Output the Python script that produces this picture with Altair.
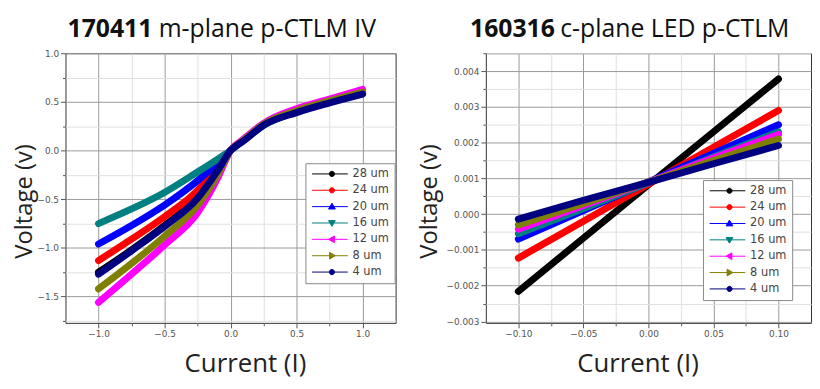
import altair as alt
import pandas as pd

# ---------------- data ----------------
sizes = ["28 um", "24 um", "20 um", "16 um", "12 um", "8 um", "4 um"]
colors = ["#000000", "#ff0000", "#0000ff", "#008080", "#ff00ff", "#808000", "#000080"]

# left panel: 170411 m-plane p-CTLM IV
m_current = [-1.0, -0.75, -0.5, -0.25, -0.1, 0.0, 0.1, 0.25, 0.5, 0.75, 1.0]
m_v28 = [-1.25, -1.02, -0.77, -0.48, -0.20, 0.0, 0.11, 0.27, 0.40, 0.50, 0.59]
m_v24 = [-1.13, -0.91, -0.68, -0.41, -0.17, 0.0, 0.11, 0.27, 0.41, 0.51, 0.60]
m_v20 = [-0.96, -0.77, -0.56, -0.31, -0.13, 0.0, 0.11, 0.27, 0.41, 0.51, 0.60]
m_v16 = [-0.75, -0.60, -0.43, -0.22, -0.09, 0.0, 0.11, 0.26, 0.40, 0.50, 0.59]
m_v12 = [-1.56, -1.27, -0.97, -0.64, -0.29, 0.0, 0.12, 0.28, 0.43, 0.53, 0.63]
m_v8 = [-1.42, -1.16, -0.88, -0.56, -0.25, 0.0, 0.11, 0.27, 0.41, 0.51, 0.60]
m_v4 = [-1.27, -1.03, -0.78, -0.49, -0.21, 0.0, 0.10, 0.26, 0.39, 0.49, 0.58]

# right panel: 160316 c-plane LED p-CTLM
c_current = [-0.10, -0.05, 0.0, 0.05, 0.10]
c_v28 = [-0.00216, -0.00067, 0.00082, 0.00230, 0.00378]
c_v24 = [-0.00123, -0.00020, 0.00084, 0.00187, 0.00290]
c_v20 = [-0.00070, 0.00010, 0.00090, 0.00170, 0.00250]
c_v16 = [-0.00055, 0.00016, 0.00088, 0.00160, 0.00230]
c_v12 = [-0.00042, 0.00024, 0.00090, 0.00157, 0.00223]
c_v8 = [-0.00030, 0.00030, 0.00090, 0.00150, 0.00210]
c_v4 = [-0.00014, 0.00039, 0.00089, 0.00141, 0.00192]

# tick values (major + minor)
m_xticks = [-1.0, -0.75, -0.5, -0.25, 0.0, 0.25, 0.5, 0.75, 1.0]
m_yticks = [-1.75, -1.5, -1.25, -1.0, -0.75, -0.5, -0.25, 0.0, 0.25, 0.5, 0.75, 1.0]
c_xticks = [-0.1, -0.075, -0.05, -0.025, 0.0, 0.025, 0.05, 0.075, 0.1]
c_yticks = [-0.003, -0.0025, -0.002, -0.0015, -0.001, -0.0005, 0.0, 0.0005, 0.001,
            0.0015, 0.002, 0.0025, 0.003, 0.0035, 0.004, 0.0045]

m_title = ["170411", "m-plane p-CTLM IV"]
c_title = ["160316", "c-plane LED p-CTLM"]
x_title = "Current (I)"
y_title = "Voltage (v)"

# legend symbols: thin line with a marker in the middle
_line = "M-1,0L8,0"
_circ = "M3.35,0A0.65,0.65,0,1,1,4.65,0A0.65,0.65,0,1,1,3.35,0Z"
legend_shapes = [
    _line + _circ,
    _line + _circ,
    _line + "M4,-0.85L4.85,0.6L3.15,0.6Z",
    _line + "M4,0.85L4.85,-0.6L3.15,-0.6Z",
    _line + "M3.15,0L4.6,-0.85L4.6,0.85Z",
    _line + "M4.85,0L3.4,-0.85L3.4,0.85Z",
    _line + _circ,
]


def long_df(cur, series):
    rows = []
    for s, vals in zip(sizes, series):
        for i, v in zip(cur, vals):
            rows.append({"size": s, "I": i, "V": v})
    return pd.DataFrame(rows)


m_df = long_df(m_current, [m_v28, m_v24, m_v20, m_v16, m_v12, m_v8, m_v4])
c_df = long_df(c_current, [c_v28, c_v24, c_v20, c_v16, c_v12, c_v8, c_v4])


def major(k):
    return f"abs(datum.value*{k} - round(datum.value*{k})) < 1e-6"


def axis(vals, fmt, k, title, title_size, **kw):
    t = major(k)
    return alt.Axis(
        values=vals, format=fmt, title=title,
        labelExpr=f"{t} ? datum.label : ''",
        labelOverlap=False,
        grid=True,
        gridColor={"condition": {"test": t, "value": "#9a9a9a"}, "value": "#e0e0e0"},
        tickSize={"condition": {"test": t, "value": 5}, "value": 3},
        tickColor="#555", domain=False,
        labelFont="DejaVu Sans", labelFontSize=9, labelColor="#555",
        titleFont="Open Sans", titleFontSize=title_size, titleFontWeight="normal",
        titleColor="#222", **kw)


def panel(df, xdom, ydom, xvals, yvals, xfmt, yfmt, xk, yk, interp,
          legend_xy, titles, title_x, xtitle_x, ytitle_x, w, h):
    xenc = alt.X("I:Q", scale=alt.Scale(domain=xdom, nice=False, zero=False),
                 axis=axis(xvals, xfmt, xk, x_title, 26, labelPadding=2,
                           titleX=xtitle_x, titleY=49, titleBaseline="alphabetic",
                           titleAlign="center"))
    yenc = alt.Y("V:Q", scale=alt.Scale(domain=ydom, nice=False, zero=False),
                 axis=axis(yvals, yfmt, yk, y_title, 24, labelPadding=2,
                           titleX=ytitle_x, titleY=h / 2 + 13, titleBaseline="middle",
                           titleAlign="center"))
    leg = alt.Legend(
        title=None, orient="none", legendX=legend_xy[0], legendY=legend_xy[1],
        symbolSize=64, symbolStrokeWidth=1, symbolOpacity=1,
        labelOffset=31, labelFont="DejaVu Sans", labelFontSize=11.5,
        labelColor="#444", rowPadding=3.5, padding=5,
        fillColor="white", strokeColor="#888", labelLimit=80,
    )
    # tiny markers hidden under the thick lines; they carry the legend
    pts = alt.Chart(df).mark_point(filled=True, size=1, strokeWidth=0).encode(
        x=xenc, y=yenc,
        fill=alt.Fill("size:N", scale=alt.Scale(domain=sizes, range=colors), legend=leg),
        stroke=alt.Stroke("size:N", scale=alt.Scale(domain=sizes, range=colors), legend=leg),
        shape=alt.Shape("size:N", scale=alt.Scale(domain=sizes, range=legend_shapes), legend=leg),
    )
    lines = alt.Chart(df).mark_line(strokeWidth=7, strokeCap="round",
                                    strokeJoin="round", interpolate=interp).encode(
        x=xenc, y=yenc,
        color=alt.Color("size:N", scale=alt.Scale(domain=sizes, range=colors), legend=None),
    )
    src = alt.Data(values=[{"k": 0}])
    t_bold = alt.Chart(src).mark_text(
        align="left", baseline="alphabetic", font="Open Sans", fontSize=25,
        fontWeight="bold", color="#111").encode(
        x=alt.value(title_x[0]), y=alt.value(-16), text=alt.value(titles[0]))
    t_rest = alt.Chart(src).mark_text(
        align="left", baseline="alphabetic", font="Open Sans", fontSize=25,
        fontWeight="normal", color="#111").encode(
        x=alt.value(title_x[1]), y=alt.value(-16), text=alt.value(titles[1]))
    return alt.layer(pts, lines, t_bold, t_rest).properties(width=w, height=h)


left = panel(m_df, [-1.25, 1.25], [-1.77, 1.0], m_xticks, m_yticks, ".1f", ".1f",
             2, 2, "monotone", (242, 111), m_title, (2, 94), 181, -41, 333, 272)
right = panel(c_df, [-0.125, 0.125], [-0.00304, 0.0045], c_xticks, c_yticks, ".2f", ".3f",
              20, 1000, "linear", (219, 128), c_title, (-16, 75), 153, -57, 328, 272)

chart = alt.hconcat(left, right, spacing=20).resolve_scale(
    fill="independent", stroke="independent", shape="independent", color="independent"
).resolve_legend(
    fill="independent", stroke="independent", shape="independent", color="independent"
).properties(
    padding={"left": 4, "top": 7, "right": 0, "bottom": 0},
    background="white",
).configure_view(stroke="#333", strokeWidth=1).configure_axis(labelOverlap=False)

chart.save("out.html", embed_options={"renderer": "svg", "actions": False})
